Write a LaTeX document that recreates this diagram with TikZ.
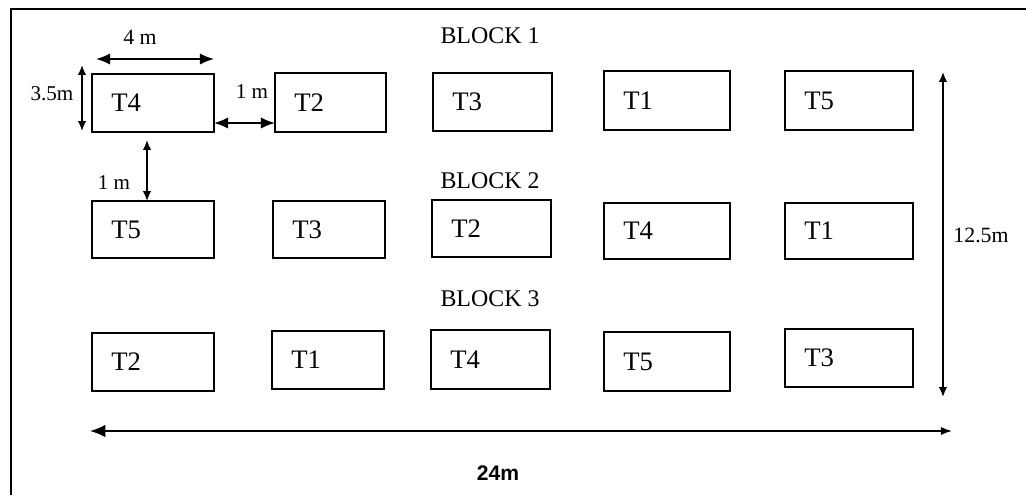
\documentclass[tikz,border=0pt]{standalone}
\usepackage{fontspec}
\setmainfont{Liberation Serif}
\newfontfamily\dimsans{Liberation Sans}
\usetikzlibrary{fit,arrows.meta}
\tikzset{
  x=0.025cm, y=-0.025cm,
  box/.style={draw=black, line width=1.3pt, inner sep=0pt},
  tlab/.style={inner sep=0pt, font=\fontsize{19}{21}\selectfont},
  blab/.style={inner sep=0pt, font=\fontsize{17}{19}\selectfont},
  dlab/.style={inner sep=0pt, font=\fontsize{15.5}{17}\selectfont},
  dimarrow/.style={line width=1.2pt, {Latex[length=10pt,width=8pt]}-{Latex[length=10pt,width=8pt]}},
  smallarrow/.style={line width=1.2pt, {Latex[length=7pt,width=6pt]}-{Latex[length=7pt,width=6pt]}},
}
\newcommand{\plotbox}[6]{%
  \node[box, fit={(#2,#3) (#4,#5)}] (#1) {};
  \node[tlab, anchor=west] (#1t) at ([xshift=0.5cm]#1.west) {#6};
}
\begin{document}
\begin{tikzpicture}
\useasboundingbox (0,0) rectangle (1026,495);
% frame
\coordinate (fl) at (11,495);
\coordinate (ftl) at (11,9);
\coordinate (fr) at (1026,9);
\draw[line width=1.3pt] (fl) -- (ftl) -- (fr);

% block labels
\node[blab] (bl1) at (490,36) {BLOCK 1};
\node[blab] (bl2) at (490,181) {BLOCK 2};
\node[blab] (bl3) at (490,299) {BLOCK 3};

% row 1
\plotbox{a1}{92}{74}{214}{132}{T4}
\plotbox{a2}{275}{73}{386}{132}{T2}
\plotbox{a3}{433}{73}{552}{131}{T3}
\plotbox{a4}{604}{71}{730}{130}{T1}
\plotbox{a5}{785}{71}{913}{130}{T5}
% row 2
\plotbox{b1}{92}{201}{214}{258}{T5}
\plotbox{b2}{273}{201}{385}{258}{T3}
\plotbox{b3}{432}{200}{551}{257}{T2}
\plotbox{b4}{604}{203}{730}{259}{T4}
\plotbox{b5}{785}{203}{913}{259}{T1}
% row 3
\plotbox{c1}{92}{333}{214}{391}{T2}
\plotbox{c2}{272}{331}{384}{389}{T1}
\plotbox{c3}{431}{330}{550}{389}{T4}
\plotbox{c4}{604}{332}{730}{391}{T5}
\plotbox{c5}{785}{329}{913}{387}{T3}

% 4 m
\coordinate (w1) at (96,59);
\coordinate (w2) at (214,59);
\draw[dimarrow] (w1) -- (w2);
\node[dlab] (wl) at (140,37) {4 m};

% 3.5 m
\coordinate (h1) at (82,65);
\coordinate (h2) at (82,131);
\draw[smallarrow] (h1) -- (h2);
\node[dlab, font=\fontsize{15}{17}\selectfont] (hl) at (52,94) {3.5m};

% 1 m horizontal
\coordinate (g1) at (214,123);
\coordinate (g2) at (275,123);
\draw[dimarrow] (g1) -- (g2);
\node[dlab, font=\fontsize{15}{17}\selectfont] (gl) at (252,92) {1 m};

% 1 m vertical
\coordinate (v1) at (147,140);
\coordinate (v2) at (147,201);
\draw[smallarrow] (v1) -- (v2);
\node[dlab, font=\fontsize{15}{17}\selectfont] (vl) at (114,183) {1 m};

% 12.5 m
\coordinate (t1) at (943,72);
\coordinate (t2) at (943,397);
\draw[smallarrow] (t1) -- (t2);
\node[dlab] (tl) at (981,235) {12.5m};

% 24 m
\coordinate (l1) at (90,431);
\coordinate (l2) at (952,431);
\draw[line width=1.2pt, {Latex[length=11pt,width=9pt]}-{Latex[length=8pt,width=6pt]}] (l1) -- (l2);
\node[inner sep=0pt, font=\dimsans\bfseries\fontsize{15}{17}\selectfont] (ll) at (498,473) {24m};
\end{tikzpicture}
\end{document}
